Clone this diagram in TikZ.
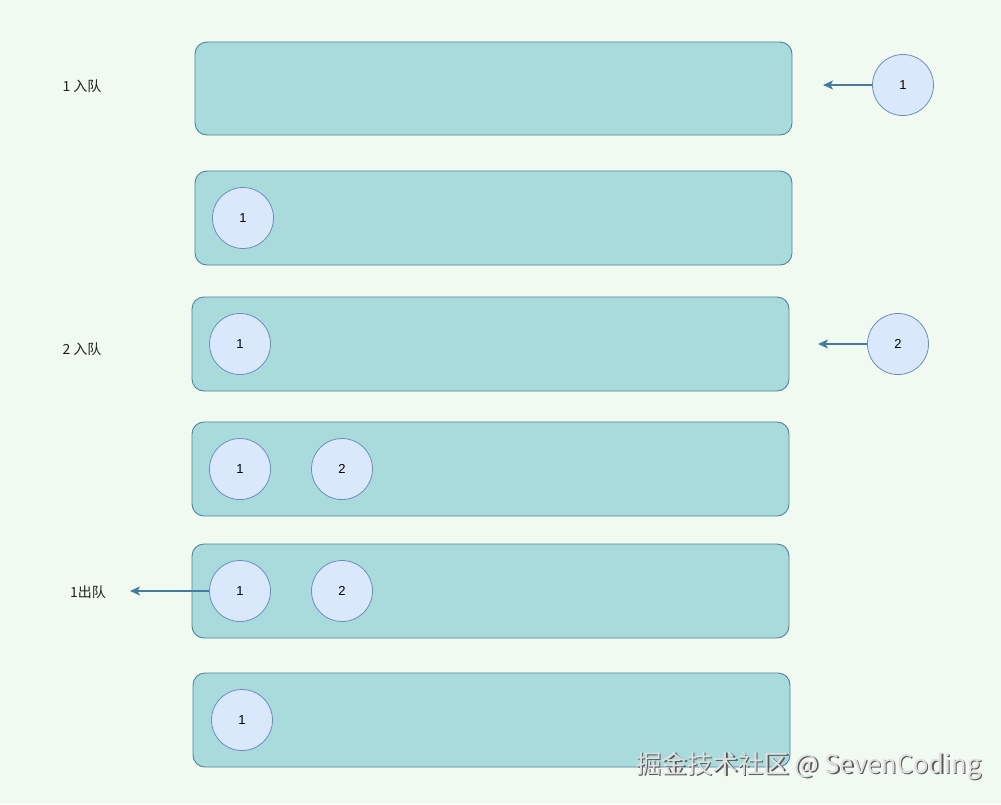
\documentclass[tikz,border=0pt]{standalone}
\usepackage{fontspec}
\setmainfont{Liberation Sans}
\newfontfamily\cjk{Noto Sans CJK SC}
\usetikzlibrary{arrows.meta}
\definecolor{bgc}{HTML}{F1FAF0}
\definecolor{boxfill}{HTML}{A9DBDC}
\definecolor{boxline}{HTML}{4E82A0}
\definecolor{cfill}{HTML}{DAE8FC}
\definecolor{cline}{HTML}{6C8EBF}
\definecolor{arr}{HTML}{457B9D}
\definecolor{txt}{HTML}{222222}
\tikzset{
  qbox/.style={draw=boxline, fill=boxfill, line width=0.9pt, rounded corners=12pt},
  elem/.style={circle, draw=cline, fill=cfill, line width=0.8pt, minimum size=61pt, inner sep=0pt, font=\fontsize{13}{15}\selectfont, text=black},
  lbl/.style={font=\cjk\fontsize{14}{16}\selectfont, text=txt},
  flow/.style={draw=arr, line width=1.1pt, -{Stealth[length=10pt,width=9pt,inset=2.5pt]}}
}
\begin{document}
\begin{tikzpicture}[x=1pt,y=-1pt]
\fill[bgc] (0,0) rectangle (1001,804);
\useasboundingbox (0,0) rectangle (1001,804);
% boxes
\draw[qbox] (195,42) rectangle (792,135);
\draw[qbox] (195,171) rectangle (792,265);
\draw[qbox] (192,297) rectangle (789,391);
\draw[qbox] (192,422) rectangle (789,516);
\draw[qbox] (192,544) rectangle (789,638);
\draw[qbox] (193,673) rectangle (790,767);
% labels
\node[lbl] (l1) at (82,86) {1 入队};
\node[lbl] (l2) at (82,349) {2 入队};
\node[lbl] (l3) at (88,592) {1出队};
% row 1
\node[elem] (a1) at (903,85) {1};
\coordinate (t1) at (823,85);
\draw[flow] (a1) -- (t1);
% row 2
\node[elem] (b1) at (243,218) {1};
% row 3
\node[elem] (c1) at (240,344) {1};
\node[elem] (c2) at (898,344) {2};
\coordinate (t2) at (818,344);
\draw[flow] (c2) -- (t2);
% row 4
\node[elem] (d1) at (240,469) {1};
\node[elem] (d2) at (342,469) {2};
% row 5
\node[elem] (e1) at (240,591) {1};
\node[elem] (e2) at (342,591) {2};
\coordinate (t3) at (130,591);
\draw[flow] (e1) -- (t3);
% row 6
\node[elem] (f1) at (242,720) {1};
% watermark
\node[font=\cjk\fontsize{25.5}{30}\selectfont, text=black!65, anchor=west, inner sep=0pt] (wms) at (637.3,766.8) {掘金技术社区 @ SevenCoding};
\node[font=\cjk\fontsize{25.5}{30}\selectfont, text=white!88!black, anchor=west, inner sep=0pt] (wm) at (636,765.5) {掘金技术社区 @ SevenCoding};
\end{tikzpicture}
\end{document}
